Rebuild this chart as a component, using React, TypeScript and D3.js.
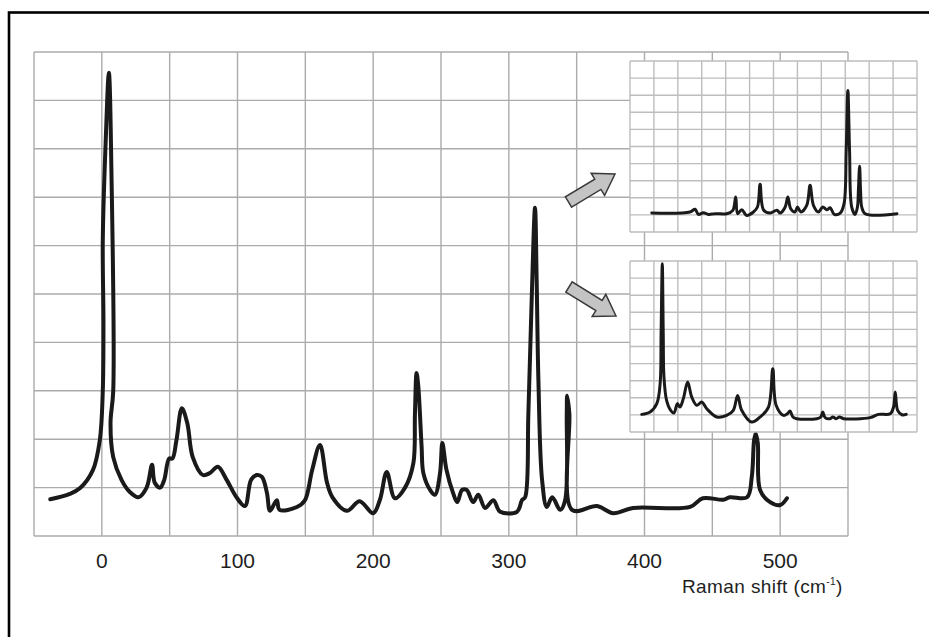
import * as d3 from "d3";

// main spectrum (Raman shift, intensity in grid units)
const mainShift = [
  -38, -23.6, -16, -6.6, -1.5, 0.7, 1.2, 0.7, 2.9, 5.2, 7.1, 8.4, 6.4, 8.4, 14.5, 20.6, 27,
  33, 37, 39, 43, 46, 49.6, 52, 55, 59, 63, 67, 74.5, 79.6, 85.5, 92, 99.5, 105.5,
  110, 114.3, 118, 121.7, 124, 129, 131, 143.8, 149.7, 155, 160.8, 166, 170, 180.7,
  190, 200, 205, 210, 216, 223.5, 229.6, 230.8, 232, 233.3, 235.7, 237, 242, 245.5,
  249.3, 251, 254, 259, 262, 265.5, 269, 273.6, 277.5, 282.5, 288.6, 293.6, 306,
  309.7, 312, 314.4, 316.9, 319.3, 320.5, 321.8, 324.5, 328, 332, 337.8, 341.5,
  342.7, 343, 344.6, 346.6, 365, 377, 391.6, 433.6, 443, 458, 463, 475.6, 479.1,
  480.8, 482, 483.5, 485.2, 492.6, 500, 505,
];
const mainIntensity = [
  0.76, 0.87, 0.99, 1.36, 1.98, 3.0, 4.4, 6.1, 8.2, 9.57, 7.49, 3.0, 2.33, 1.63, 1.16, 0.91, 0.8,
  1.0, 1.47, 1.1, 1.0, 1.16, 1.6, 1.6, 1.98, 2.64, 2.33, 1.63, 1.26, 1.3, 1.43, 1.16, 0.79, 0.62,
  1.16, 1.26, 1.22, 0.89, 0.52, 0.74, 0.54, 0.6, 0.74, 1.36, 1.88, 1.1, 0.8, 0.52,
  0.72, 0.47, 0.75, 1.32, 0.78, 1.0, 1.5, 2.53, 3.37, 3.08, 1.85, 1.3, 0.95, 0.85,
  1.3, 1.92, 1.37, 0.88, 0.7, 0.95, 0.95, 0.7, 0.85, 0.58, 0.74, 0.5, 0.5,
  0.74, 0.8, 2.53, 4.94, 6.78, 5.29, 3.22, 1.16, 0.6, 0.8, 0.54, 0.74,
  2.53, 2.9, 2.53, 0.54, 0.62, 0.47, 0.58, 0.6, 0.78, 0.75, 0.8, 0.8, 1.23,
  1.98, 2.12, 1.92, 0.95, 0.7, 0.64, 0.78,
];

// upper inset spectrum (inset grid units)
const topInsetX = [
  0.91, 2.51, 2.72, 2.86, 3.07, 3.28, 3.56, 4.04, 4.3, 4.42, 4.5, 4.67, 4.88, 5.16, 5.33,
  5.44, 5.58, 5.86, 6.14, 6.28, 6.49, 6.6, 6.72, 6.9, 7.0, 7.14, 7.39, 7.53, 7.67, 7.88,
  8.06, 8.23, 8.37, 8.54, 8.79, 8.95, 9.04, 9.11, 9.18, 9.27, 9.41, 9.51, 9.55, 9.6,
  9.64, 9.69, 9.83, 11.16,
];
const topInsetY = [
  1.11, 1.17, 1.33, 1.03, 1.13, 1.03, 1.07, 1.07, 1.27, 2.05, 1.07, 1.3, 0.97, 1.17, 1.46,
  2.79, 1.3, 1.11, 1.27, 1.11, 1.46, 2.05, 1.36, 1.17, 1.46, 1.17, 1.56, 2.73, 1.56, 1.17,
  1.46, 1.3, 1.42, 1.03, 1.11, 1.66, 4.77, 8.28, 4.77, 1.46, 1.03, 1.46, 2.44, 3.84,
  2.44, 1.46, 1.07, 1.07,
];

// lower inset spectrum (inset grid units)
const bottomInsetX = [
  0.49, 0.84, 1.12, 1.26, 1.3, 1.35, 1.39, 1.42, 1.53, 1.7, 1.84, 1.98, 2.09, 2.23, 2.41,
  2.58, 2.79, 3.0, 3.21, 3.63, 4.04, 4.32, 4.5, 4.67, 5.09, 5.44, 5.79, 5.97, 6.11, 6.42,
  6.58, 6.69, 6.81, 6.97, 7.81, 7.98, 8.06, 8.16, 8.37, 8.48, 8.62, 8.76, 8.93, 10.04,
  10.39, 10.88, 11.02, 11.09, 11.19, 11.37, 11.55,
];
const bottomInsetY = [
  1.03, 1.17, 1.66, 2.83, 5.75, 9.84, 5.75, 3.22, 1.85, 1.27, 1.11, 1.66, 1.46, 1.95, 2.92,
  2.05, 1.56, 1.75, 1.36, 0.88, 0.97, 1.27, 2.14, 1.27, 0.58, 0.88, 1.46, 3.7, 1.56, 0.97,
  1.07, 1.23, 0.88, 0.78, 0.78, 0.88, 1.17, 0.84, 0.78, 0.88, 0.78, 0.88, 0.78, 0.84,
  1.03, 1.07, 1.46, 2.34, 1.27, 1.01, 1.03,
];

const xTickLabels = [0, 100, 200, 300, 400, 500];
const axisTitle = "Raman shift (cm";

const W = 929;
const H = 637;
const main = { left: 34, right: 848, top: 52, bottom: 536 };
const insets = [
  { left: 630, top: 61, width: 287, height: 171 },
  { left: 630, top: 261, width: 287, height: 171 },
];
const arrows = [
  { tail: [568.5, 202], tip: [615, 174] },
  { tail: [569, 287], tip: [616, 316] },
];

function arrowPath(tail: number[], tip: number[]) {
  const dx = tip[0] - tail[0];
  const dy = tip[1] - tail[1];
  const len = Math.hypot(dx, dy);
  const ux = dx / len, uy = dy / len;
  const nx = -uy, ny = ux;
  const shaft = 6, head = 13, headLen = 20;
  const bx = tip[0] - ux * headLen, by = tip[1] - uy * headLen;
  const pts = [
    [tail[0] + nx * shaft, tail[1] + ny * shaft],
    [bx + nx * shaft, by + ny * shaft],
    [bx + nx * head, by + ny * head],
    [tip[0], tip[1]],
    [bx - nx * head, by - ny * head],
    [bx - nx * shaft, by - ny * shaft],
    [tail[0] - nx * shaft, tail[1] - ny * shaft],
  ];
  return "M" + pts.map((p) => p.join(",")).join("L") + "Z";
}

function Inset({ box, xs, ys }: { box: any; xs: number[]; ys: number[] }) {
  const ix = d3.scaleLinear().domain([0, 12]).range([box.left, box.left + box.width]);
  const iy = d3.scaleLinear().domain([0, 10]).range([box.top + box.height, box.top]);
  const line = d3
    .line<number>()
    .x((_, i) => ix(xs[i]))
    .y((d) => iy(d))
    .curve(d3.curveCatmullRom.alpha(0.5));
  return (
    <g>
      <rect x={box.left} y={box.top} width={box.width} height={box.height} fill="#fff" />
      {d3.range(0, 13).map((v) => (
        <line key={"v" + v} x1={ix(v)} x2={ix(v)} y1={box.top} y2={box.top + box.height}
          stroke="#bdbdbd" strokeWidth={1.4} />
      ))}
      {d3.range(0, 11).map((v) => (
        <line key={"h" + v} x1={box.left} x2={box.left + box.width} y1={iy(v)} y2={iy(v)}
          stroke="#bdbdbd" strokeWidth={1.4} />
      ))}
      <path d={line(ys) || ""} fill="none" stroke="#1a1a1a" strokeWidth={3}
        strokeLinejoin="round" strokeLinecap="round" />
    </g>
  );
}

export default function App() {
  const x = d3.scaleLinear().domain([-50, 550]).range([main.left, main.right]);
  const y = d3.scaleLinear().domain([0, 10]).range([main.bottom, main.top]);
  const line = d3
    .line<number>()
    .x((_, i) => x(mainShift[i]))
    .y((d) => y(d))
    .curve(d3.curveCatmullRom.alpha(0.5));

  return (
    <svg width={W} height={H} style={{ position: "absolute", left: 0, top: 0 }}
      fontFamily="'Liberation Sans', Arial, sans-serif">
      <rect width={W} height={H} fill="#fff" />
      <rect x={9} y={12.5} width={W + 20} height={H + 20} fill="none" stroke="#000" strokeWidth={2.6} />

      {d3.range(-50, 551, 50).map((v) => (
        <line key={"gx" + v} x1={x(v)} x2={x(v)} y1={main.top} y2={main.bottom}
          stroke="#ababab" strokeWidth={1.4} />
      ))}
      {d3.range(0, 11).map((v) => (
        <line key={"gy" + v} x1={main.left} x2={main.right} y1={y(v)} y2={y(v)}
          stroke="#ababab" strokeWidth={1.4} />
      ))}

      <path d={line(mainIntensity) || ""} fill="none" stroke="#1a1a1a" strokeWidth={4}
        strokeLinejoin="round" strokeLinecap="round" />

      {xTickLabels.map((t) => (
        <text key={t} x={x(t)} y={567.5} textAnchor="middle" fontSize={21} fill="#1e1e1e">
          {t}
        </text>
      ))}
      <text x={682} y={593} fontSize={19} letterSpacing={0.4} fill="#1e1e1e">
        {axisTitle}
        <tspan dy={-8} fontSize={10}>-1</tspan>
        <tspan dy={8}>)</tspan>
      </text>

      <Inset box={insets[0]} xs={topInsetX} ys={topInsetY} />
      <Inset box={insets[1]} xs={bottomInsetX} ys={bottomInsetY} />

      {arrows.map((a, i) => (
        <path key={i} d={arrowPath(a.tail, a.tip)} fill="#c4c4c4" stroke="#3a3a3a"
          strokeWidth={1.5} strokeLinejoin="miter" />
      ))}
    </svg>
  );
}
